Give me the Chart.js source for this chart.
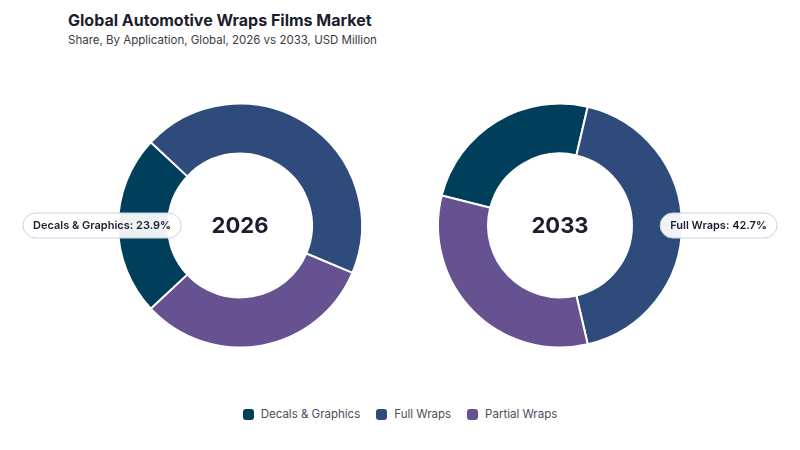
<!DOCTYPE html>
<html>
<head>
<meta charset="utf-8">
<script src="https://cdn.jsdelivr.net/npm/chart.js@4.4.1/dist/chart.umd.min.js"></script>
<style>
  html, body { margin: 0; padding: 0; background: #ffffff; }
  body { width: 800px; height: 450px; position: relative; overflow: hidden; font-family: Inter, "Noto Sans", sans-serif; }
  #title { position: absolute; left: 68px; top: 10px; font-size: 16px; font-weight: 700; color: #1c1d2e; letter-spacing: 0px; }
  #subtitle { position: absolute; left: 68px; top: 33px; font-size: 11.5px; color: #3a3a46; }
  .cv { position: absolute; top: 60px; width: 400px; height: 330px; }
  #w1 { left: 0px; }
  #w2 { left: 400px; }
  #legend { position: absolute; top: 407px; left: 0; width: 800px; display: flex; justify-content: center; gap: 16px; font-size: 11.5px; color: #4a4e5a; }
  .li { display: flex; align-items: center; }
  .sw { width: 11px; height: 11px; border-radius: 3px; margin-right: 7px; }
</style>
</head>
<body>
<div id="title">Global Automotive Wraps Films Market</div>
<div id="subtitle">Share, By Application, Global, 2026 vs 2033, USD Million</div>
<div class="cv" id="w1"><canvas id="c1"></canvas></div>
<div class="cv" id="w2"><canvas id="c2"></canvas></div>
<div id="legend"></div>
<script>
const categories = ["Decals & Graphics", "Full Wraps", "Partial Wraps"];
const years = ["2026", "2033"];
const values2026 = [23.9, 44.4, 31.7];
const values2033 = [24.7, 42.7, 32.6];
const colors = ["#003f5c", "#2f4b7c", "#665191"];
// labelled segment per chart and side where it sits (270 = left, 90 = right)
const labelIndex = [0, 1];
const labelAngle = [270, 90];

const FONT = "Inter, 'Noto Sans', sans-serif";

function rotationFor(vals, idx, targetDeg) {
  const total = vals.reduce((a, b) => a + b, 0);
  let before = 0;
  for (let i = 0; i < idx; i++) before += vals[i];
  const mid = (before + vals[idx] / 2) / total * 360;
  return targetDeg - mid;
}

const overlayPlugin = {
  id: 'overlay',
  afterDraw(chart, args, opts) {
    const ctx = chart.ctx;
    const meta = chart.getDatasetMeta(0);
    const arc0 = meta.data[0];
    const cx = arc0.x, cy = arc0.y;
    // center text
    ctx.save();
    ctx.font = "700 22px " + FONT;
    ctx.fillStyle = "#1c1d2e";
    ctx.textAlign = "center";
    ctx.textBaseline = "middle";
    ctx.fillText(opts.year, cx, cy + 1);
    // callout label
    const i = opts.index;
    const arc = meta.data[i];
    const mid = (arc.startAngle + arc.endAngle) / 2;
    const r = arc.outerRadius + 38;
    let lx = cx + Math.cos(mid) * r;
    let ly = cy + Math.sin(mid) * r;
    const vals = chart.data.datasets[0].data;
    const total = vals.reduce((a, b) => a + b, 0);
    const txt = chart.data.labels[i] + ": " + (vals[i] / total * 100).toFixed(1) + "%";
    ctx.font = "600 11px " + FONT;
    const tw = ctx.measureText(txt).width;
    const w = tw + 20, h = 25;
    const pageLeft = chart.canvas.getBoundingClientRect().left;
    const minX = 23 - pageLeft + w / 2, maxX = 777 - pageLeft - w / 2;
    lx = Math.max(minX, Math.min(maxX, lx));
    const x0 = lx - w / 2, y0 = ly - h / 2;
    ctx.beginPath();
    ctx.roundRect(x0, y0, w, h, h / 2);
    ctx.fillStyle = "rgba(255,255,255,0.93)";
    ctx.fill();
    ctx.lineWidth = 1;
    ctx.strokeStyle = "#ccd2dc";
    ctx.stroke();
    ctx.fillStyle = "#1c1d2e";
    ctx.fillText(txt, lx, ly + 0.5);
    ctx.restore();
  }
};

function makeChart(id, vals, k, pad) {
  return new Chart(document.getElementById(id), {
    type: 'doughnut',
    data: {
      labels: categories,
      datasets: [{
        data: vals,
        backgroundColor: colors,
        borderColor: "#ffffff",
        borderWidth: 2,
        hoverOffset: 0
      }]
    },
    options: {
      responsive: true,
      maintainAspectRatio: false,
      animation: false,
      cutout: "59%",
      rotation: rotationFor(vals, labelIndex[k], labelAngle[k]),
      layout: { padding: pad },
      plugins: {
        legend: { display: false },
        tooltip: { enabled: false },
        overlay: { year: years[k], index: labelIndex[k] }
      }
    },
    plugins: [overlayPlugin]
  });
}

makeChart('c1', values2026, 0, { left: 117, right: 37, top: 42, bottom: 41 });
makeChart('c2', values2033, 1, { left: 37, right: 117, top: 42, bottom: 41 });

const lg = document.getElementById('legend');
categories.forEach((c, i) => {
  const d = document.createElement('div');
  d.className = 'li';
  d.innerHTML = '<span class="sw" style="background:' + colors[i] + '"></span><span>' + c + '</span>';
  lg.appendChild(d);
});
</script>
</body>
</html>
